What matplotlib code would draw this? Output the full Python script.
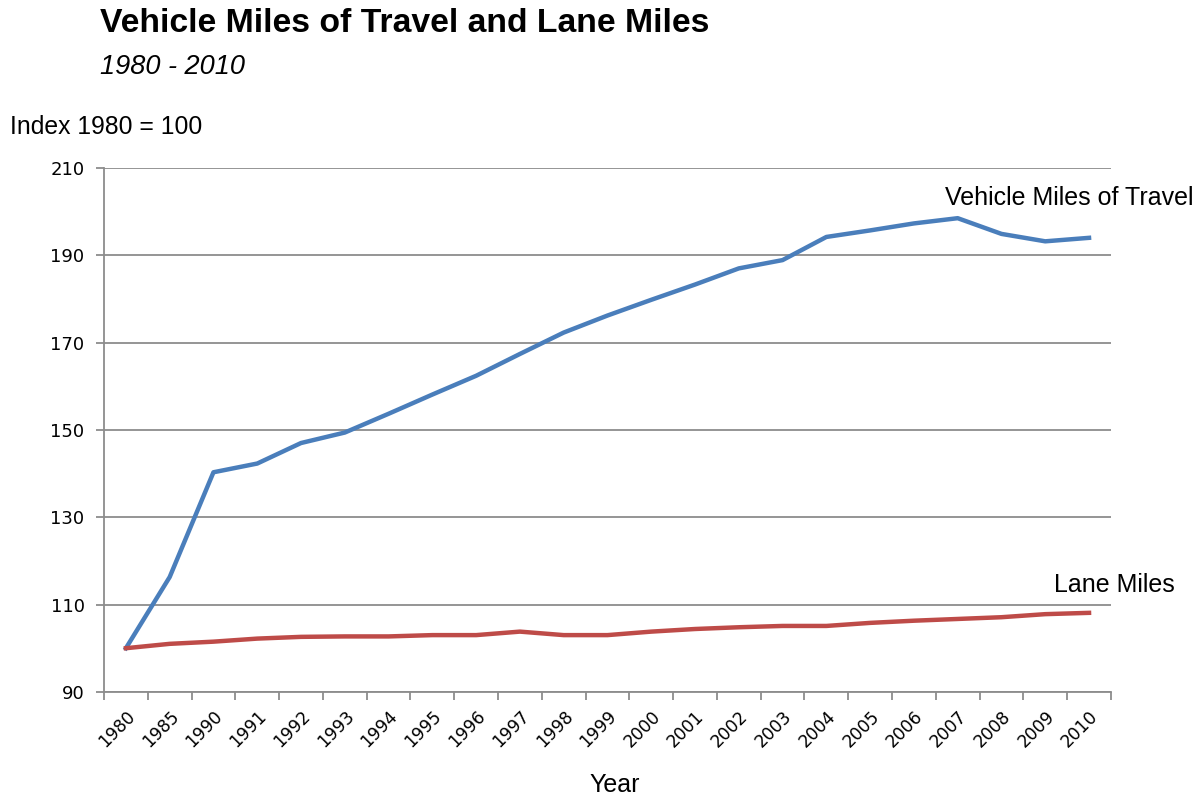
import matplotlib
matplotlib.use("Agg")
import matplotlib.pyplot as plt
import numpy as np

plt.rcParams['font.family'] = ['Liberation Sans', 'DejaVu Sans']

years = ['1980', '1985', '1990', '1991', '1992', '1993', '1994', '1995', '1996',
         '1997', '1998', '1999', '2000', '2001', '2002', '2003', '2004', '2005',
         '2006', '2007', '2008', '2009', '2010']
vmt = [100.0, 116.3, 140.3, 142.3, 147.0, 149.4, 153.7, 158.1, 162.4, 167.4,
       172.3, 176.2, 179.8, 183.3, 187.0, 188.9, 194.2, 195.7, 197.3, 198.5,
       194.9, 193.2, 194.0]
lane_miles = [100.0, 101.0, 101.5, 102.2, 102.6, 102.7, 102.7, 103.0, 103.0, 103.8,
              103.0, 103.0, 103.8, 104.4, 104.8, 105.1, 105.1, 105.8, 106.3, 106.7,
              107.1, 107.8, 108.1]

blue = '#4a7ebb'
red = '#be4b48'
grid_col = '#8c8c8c'

fig = plt.figure(figsize=(12.01, 7.98), dpi=100)
ax = fig.add_axes([0.0866, 0.133, 0.8384, 0.6565])

x = np.arange(len(years))
ax.plot(x, vmt, color=blue, lw=3.2, solid_joinstyle='round')
ax.plot(x, lane_miles, color=red, lw=3.2, solid_joinstyle='round')

ax.set_xlim(-0.5, len(years) - 0.5)
ax.set_ylim(90, 210)
ax.set_yticks(np.arange(90, 211, 20))
ax.yaxis.grid(True, color=grid_col, lw=1.3)
ax.set_axisbelow(True)

ax.set_xticks(x)
ax.set_xticklabels(years, rotation=45, ha='right', va='top', rotation_mode='anchor',
                   fontsize=12.3, family='DejaVu Sans')
ax.set_xticks(np.arange(-0.5, len(years), 1), minor=True)
ax.tick_params(axis='x', which='major', length=0, pad=11)
ax.tick_params(axis='x', which='minor', length=6, color=grid_col, width=1.3, direction='out')
ax.tick_params(axis='y', length=6, color=grid_col, width=1.3, pad=8)
for lbl in ax.get_yticklabels():
    lbl.set_family('DejaVu Sans')
    lbl.set_fontsize(13)

for s in ['top', 'right']:
    ax.spines[s].set_visible(False)
for s in ['left', 'bottom']:
    ax.spines[s].set_color(grid_col)
    ax.spines[s].set_linewidth(1.3)

ax.text(18.7, 203.1, 'Vehicle Miles of Travel', fontsize=18,
        ha='left', va='center', clip_on=False)
ax.text(21.2, 114.5, 'Lane Miles', fontsize=18,
        ha='left', va='center', clip_on=False)

fig.text(0.512, 0.016, 'Year', fontsize=18, ha='center', va='center')
fig.text(0.083, 0.971, 'Vehicle Miles of Travel and Lane Miles', fontsize=24.3,
         fontweight='bold', va='center', ha='left')
fig.text(0.083, 0.916, '1980 - 2010', fontsize=19.5, style='italic', va='center', ha='left')
fig.text(0.008, 0.841, 'Index 1980 = 100', fontsize=17.8, va='center', ha='left')

fig.savefig('out.png', dpi=100)
